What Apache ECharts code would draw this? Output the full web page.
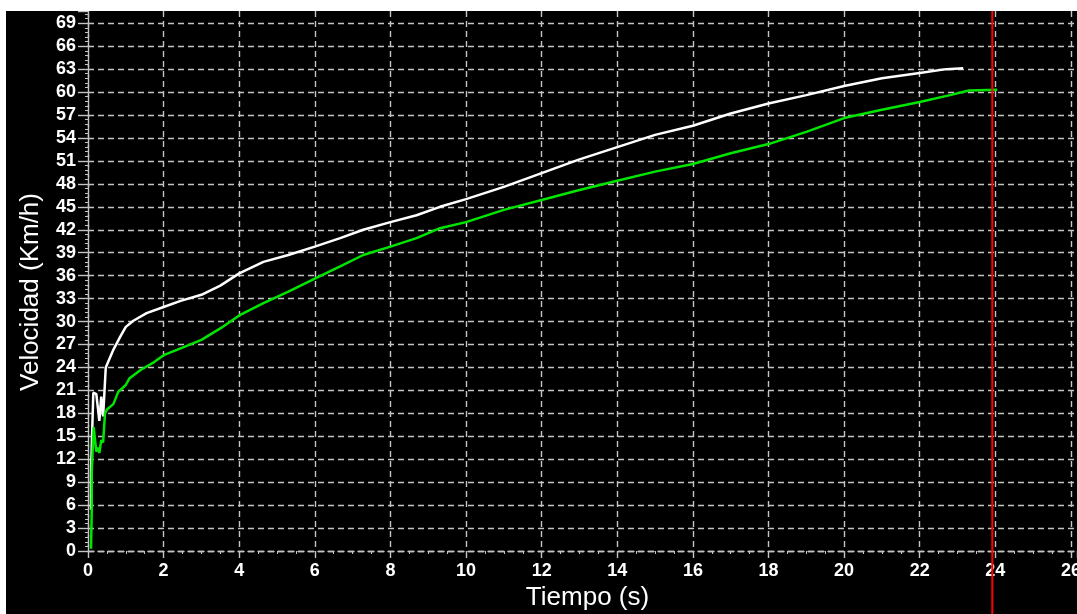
<!DOCTYPE html>
<html>
<head>
<meta charset="utf-8">
<script src="https://cdn.jsdelivr.net/npm/echarts@6/dist/echarts.min.js"></script>
<style>html,body{margin:0;padding:0;background:#fff}#c{width:1077px;height:614px}</style>
</head>
<body>
<div id="c"></div>
<script>
// Time (s) and speed (Km/h)
const timeWhite = [0.08,0.08,0.12,0.14,0.22,0.30,0.35,0.40,0.47,0.67,0.85,1.0,1.2,1.55,2.0,2.45,3.0,3.5,4.0,4.64,5.3,6.0,6.67,7.28,8.0,8.69,9.31,10.0,11.0,12.0,13.0,14.0,15.0,16.0,17.0,18.0,19.0,20.0,21.0,22.0,22.7,23.15];
const speedWhite = [5.4,10.2,10.4,20.7,20.5,17.0,20.2,17.6,24.0,26.3,28.0,29.3,30.1,31.1,31.9,32.7,33.5,34.7,36.3,37.8,38.7,39.8,40.9,42.0,43.0,43.9,45.0,46.0,47.6,49.4,51.2,52.8,54.4,55.6,57.2,58.5,59.6,60.8,61.8,62.5,63.0,63.1];
const timeGreen = [0.08,0.10,0.10,0.15,0.15,0.20,0.22,0.28,0.30,0.35,0.40,0.45,0.50,0.67,0.80,1.0,1.1,1.4,1.75,2.0,2.45,3.0,3.5,4.0,4.64,5.3,6.0,6.67,7.28,8.0,8.69,9.31,10.0,11.0,12.0,13.0,14.0,15.0,16.0,17.0,18.0,19.0,20.0,21.0,22.0,22.8,23.3,24.05];
const speedGreen = [0.3,5.5,10.4,10.6,16.2,16.0,13.0,13.5,12.8,14.5,14.2,18.0,18.5,19.2,20.8,21.7,22.6,23.7,24.7,25.6,26.5,27.6,29.1,30.8,32.4,33.9,35.6,37.2,38.7,39.8,40.9,42.2,43.0,44.6,45.9,47.2,48.4,49.6,50.6,52.0,53.2,54.8,56.6,57.7,58.7,59.6,60.2,60.3];
const cursorTime = [23.92];
const xTicks = {min: 0, max: 26.16, interval: 2};
const yTicks = {min: 0, max: 70.6, interval: 3};

const pairs = (xs, ys) => xs.map((x, i) => [x, ys[i]]);
const grey = '#c4c4c4';
const dash = {color: grey, type: [6, 4], width: 1.4};
const labelStyle = {color: '#ffffff', fontFamily: 'Liberation Sans', fontWeight: 'bold', fontSize: 18};

const chart = echarts.init(document.getElementById('c'), null, {renderer: 'canvas'});
chart.setOption({
  backgroundColor: '#000000',
  animation: false,
  graphic: [
    {type: 'rect', z: 100, shape: {x: 0, y: 0, width: 1077, height: 11}, style: {fill: '#ffffff'}},
    {type: 'rect', z: 100, shape: {x: 0, y: 0, width: 6, height: 614}, style: {fill: '#ffffff'}}
  ],
  grid: [
    {left: 88, right: 0, top: 11, bottom: 63, containLabel: false, outerBoundsMode: 'none'},
    {left: 88, right: 0, top: 11, bottom: 0, containLabel: false, outerBoundsMode: 'none'}
  ],
  xAxis: [{
    type: 'value', gridIndex: 0, min: xTicks.min, max: xTicks.max, interval: xTicks.interval,
    name: 'Tiempo (s)', nameLocation: 'middle', nameGap: 33,
    nameTextStyle: {color: '#ffffff', fontFamily: 'Liberation Sans', fontSize: 26, padding: [0, 0, 0, 10]},
    axisLine: {show: true, lineStyle: dash},
    axisTick: {show: true, length: 7, lineStyle: {color: grey, width: 1.4}},
    minorTick: {show: true, splitNumber: 4, length: 3, lineStyle: {color: grey}},
    axisLabel: Object.assign({margin: 11, showMaxLabel: false, hideOverlap: false,
      formatter: v => (Math.abs(v / 2 - Math.round(v / 2)) < 1e-6 ? String(v) : '')}, labelStyle),
    splitLine: {show: true, showMaxLine: false, lineStyle: dash}
  }, {
    type: 'value', gridIndex: 1, min: xTicks.min, max: xTicks.max, show: false
  }],
  yAxis: [{
    type: 'value', gridIndex: 0, min: yTicks.min, max: yTicks.max, interval: yTicks.interval,
    name: 'Velocidad (Km/h)', nameLocation: 'middle', nameGap: 44, nameRotate: 90,
    nameTextStyle: {color: '#ffffff', fontFamily: 'Liberation Sans', fontSize: 26, padding: [0, 22, 0, 0]},
    axisLine: {show: true, lineStyle: dash},
    axisTick: {show: true, length: 10, lineStyle: {color: grey, width: 1.4}},
    minorTick: {show: true, splitNumber: 5, length: 3, lineStyle: {color: grey}},
    axisLabel: Object.assign({margin: 12, showMaxLabel: false,
      formatter: v => (Math.abs(v / 3 - Math.round(v / 3)) < 1e-6 ? String(v) : '')}, labelStyle),
    splitLine: {show: true, showMaxLine: false, lineStyle: dash}
  }, {
    type: 'value', gridIndex: 1, min: 0, max: 1, show: false
  }],
  series: [
    {
      type: 'line', xAxisIndex: 0, yAxisIndex: 0, data: pairs(timeWhite, speedWhite),
      showSymbol: false, lineStyle: {color: '#ffffff', width: 2.5}, z: 3
    },
    {
      type: 'line', xAxisIndex: 0, yAxisIndex: 0, data: pairs(timeGreen, speedGreen),
      showSymbol: false, lineStyle: {color: '#00e600', width: 2.5}, z: 4
    },
    {
      type: 'line', xAxisIndex: 1, yAxisIndex: 1, data: [[cursorTime[0], 0], [cursorTime[0], 1]],
      showSymbol: false, lineStyle: {color: '#ff0000', width: 2}, z: 10
    }
  ]
});
</script>
</body>
</html>
